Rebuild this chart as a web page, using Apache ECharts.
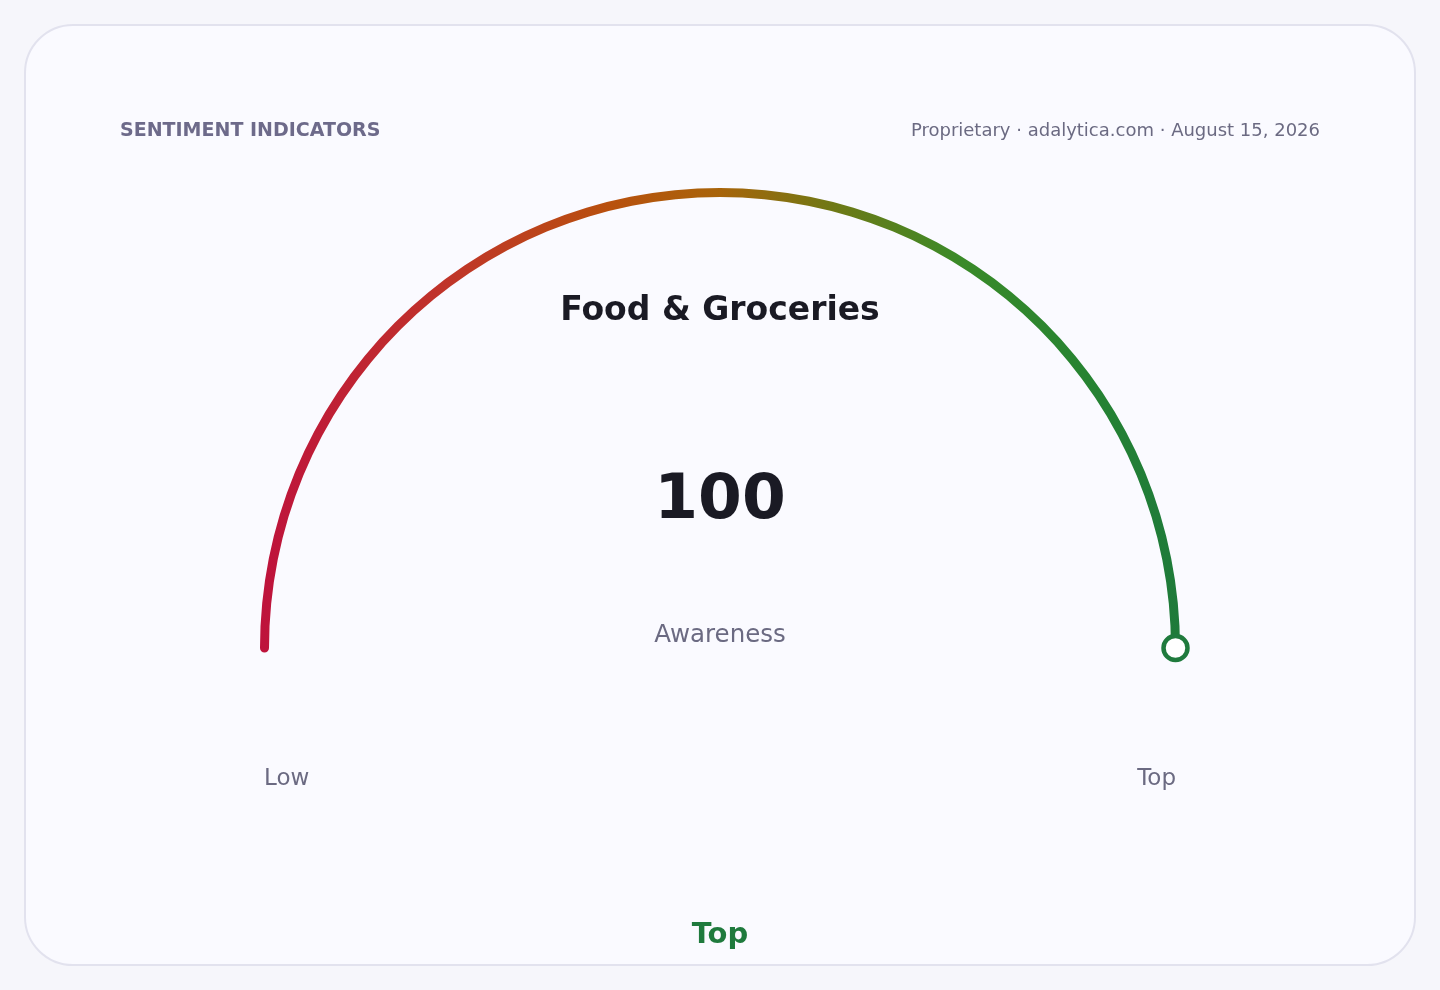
<!DOCTYPE html>
<html>
<head>
<meta charset="utf-8">
<script src="https://cdn.jsdelivr.net/npm/echarts@6/dist/echarts.min.js"></script>
<style>
  html, body { margin: 0; padding: 0; background: #f6f6fb; }
  #chart { width: 1440px; height: 990px; }
</style>
</head>
<body>
<div id="chart"></div>
<script>
// ---- data ----
const categories = ['Food & Groceries'];
const values = [100];
const metricLabels = ['Awareness'];
const scaleLabels = ['Low', 'Top'];
const ratingLabels = ['Top'];
const headerTitle = 'SENTIMENT INDICATORS';
const headerSource = 'Proprietary · adalytica.com · August 15, 2026';

const FONT = "'DejaVu Sans', sans-serif";
const chart = echarts.init(document.getElementById('chart'), null, { renderer: 'canvas' });

const R = 460;       // outer radius of progress band
const BAND = 9;
const MID = R - BAND / 2;
const KNOB = 24;
const gaugeBase = {
  type: 'gauge',
  center: [720, 648],
  radius: R,
  startAngle: 180,
  endAngle: 0,
  min: 0,
  max: 100,
  axisLine: { show: false },
  splitLine: { show: false },
  axisTick: { show: false },
  axisLabel: { show: false },
  anchor: { show: false }
};
const seriesData = categories.map((c, i) => ({ name: c, value: values[i] }));

const option = {
  backgroundColor: 'transparent',
  graphic: [
    {
      type: 'rect', z: -10,
      shape: { x: 25, y: 25, width: 1390, height: 940, r: 48 },
      style: { fill: '#fafaff', stroke: '#e2e2ee', lineWidth: 2 }
    },
    {
      type: 'text', left: 120, top: 122,
      style: { text: headerTitle, font: "bold 19px " + FONT, fill: '#6d6a8a' }
    },
    {
      type: 'text', right: 120, top: 122,
      style: { text: headerSource, font: "18px " + FONT, fill: '#6b6a82', textAlign: 'right' }
    },
    {
      type: 'text', x: 720, y: 636,
      style: { text: metricLabels[0], font: "24.5px " + FONT, fill: '#6b6a82', textAlign: 'center', textVerticalAlign: 'middle' }
    },
    {
      type: 'text', x: 264, y: 779,
      style: { text: scaleLabels[0], font: "23px " + FONT, fill: '#6b6a82', textAlign: 'left', textVerticalAlign: 'middle' }
    },
    {
      type: 'text', x: 1176, y: 779,
      style: { text: scaleLabels[1], font: "23px " + FONT, fill: '#6b6a82', textAlign: 'right', textVerticalAlign: 'middle' }
    },
    {
      type: 'text', x: 720, y: 935,
      style: { text: ratingLabels[0], font: "bold 29px " + FONT, fill: '#1f7a3d', textAlign: 'center', textVerticalAlign: 'middle' }
    }
  ],
  series: [
    Object.assign({}, gaugeBase, {
      z: 2,
      progress: {
        show: true,
        width: BAND,
        roundCap: true,
        itemStyle: {
          color: new echarts.graphic.LinearGradient(0, 0, 1, 0, [
            { offset: 0, color: '#be123c' },
            { offset: 0.2, color: '#c0342a' },
            { offset: 0.38, color: '#b8500e' },
            { offset: 0.5, color: '#a8640a' },
            { offset: 0.62, color: '#707815' },
            { offset: 0.76, color: '#3a8a28' },
            { offset: 0.9, color: '#268332' },
            { offset: 1, color: '#1e7a3a' }
          ])
        }
      },
      pointer: { show: false },
      title: {
        offsetCenter: [0, -337],
        color: '#1a1a24',
        fontFamily: FONT,
        fontWeight: 'bold',
        fontSize: 33
      },
      detail: {
        offsetCenter: [0, -146],
        color: '#1a1a24',
        fontFamily: FONT,
        fontWeight: 'bold',
        fontSize: 63,
        valueAnimation: false,
        formatter: '{value}'
      },
      data: seriesData
    }),
    Object.assign({}, gaugeBase, {
      z: 5,
      progress: { show: false },
      pointer: {
        show: true,
        icon: 'circle',
        width: KNOB,
        length: KNOB,
        offsetCenter: [0, -(MID - KNOB / 2)],
        keepAspect: true,
        itemStyle: { color: '#ffffff', borderColor: '#1f7a3d', borderWidth: 4.5 }
      },
      title: { show: false },
      detail: { show: false },
      data: seriesData
    })
  ],
  animation: false
};
chart.setOption(option);
</script>
</body>
</html>
